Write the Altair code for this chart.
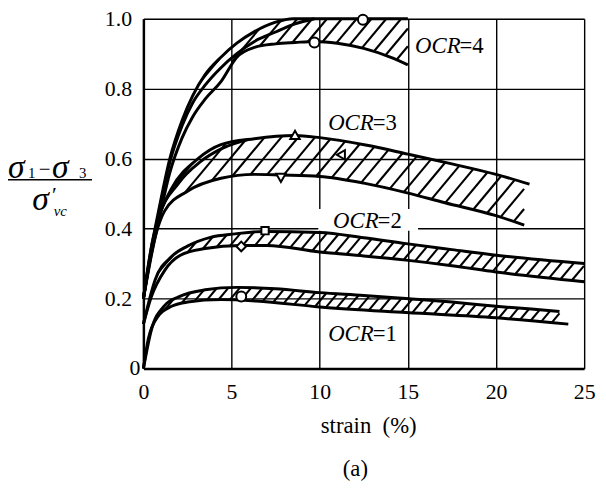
import altair as alt
import pandas as pd
import numpy as np

W, H = 446, 354
XMAX, YMAX = 25.0, 1.0
FONT = "Liberation Serif"

# ---------------- curve data ----------------
ocr1_up_x = [0, 0.45, 1.2, 2.0, 3.5, 5.3, 7.5, 10, 12.5, 14.9, 17.5, 20, 22, 23.6]
ocr1_up_y = [0, 0.11, 0.18, 0.205, 0.225, 0.232, 0.228, 0.217, 0.209, 0.200, 0.19, 0.178, 0.17, 0.163]
ocr1_lo_x = [0, 0.28, 0.84, 1.6, 2.5, 4.4, 6.4, 10, 14.9, 20, 24.1]
ocr1_lo_y = [0, 0.085, 0.15, 0.178, 0.19, 0.197, 0.193, 0.176, 0.16, 0.145, 0.127]

ocr2_up_x = [0, 0.67, 1.6, 2.5, 3.8, 5.2, 6.85, 10, 12.5, 14.9, 17.5, 20, 25]
ocr2_up_y = [0.127, 0.254, 0.32, 0.35, 0.375, 0.385, 0.392, 0.389, 0.374, 0.357, 0.34, 0.324, 0.30]
ocr2_lo_x = [0, 0.45, 1.2, 2.1, 3.5, 5.5, 7.0, 10, 12.5, 14.9, 17.5, 20, 25]
ocr2_lo_y = [0.127, 0.205, 0.28, 0.324, 0.343, 0.352, 0.352, 0.333, 0.322, 0.31, 0.294, 0.276, 0.248]

ocr3_up_x = [0, 0.5, 1.0, 1.6, 3.1, 4.4, 6.3, 8.6, 10, 12.6, 15, 17.5, 20, 21.9]
ocr3_up_y = [0.2, 0.36, 0.45, 0.515, 0.6, 0.64, 0.657, 0.666, 0.66, 0.639, 0.613, 0.585, 0.555, 0.527]
ocr3_mid_x = [0, 0.8, 2.0, 3.2, 4.5, 6.0]
ocr3_mid_y = [0.2, 0.42, 0.53, 0.59, 0.63, 0.655]
ocr3_lo_x = [0, 0.5, 1.2, 2.5, 4.4, 6.3, 7.8, 10, 12.5, 14.9, 17.1, 20, 21.6]
ocr3_lo_y = [0.2, 0.34, 0.45, 0.507, 0.544, 0.555, 0.553, 0.549, 0.53, 0.503, 0.474, 0.437, 0.41]

ocr4_a_x = [0, 0.4, 0.9, 1.5, 2.2, 2.8, 3.5, 4.4, 5.3, 6.3, 7.5, 8.5, 15]
ocr4_a_y = [0.2, 0.33, 0.46, 0.6, 0.71, 0.78, 0.84, 0.89, 0.93, 0.963, 0.99, 1.0, 1.0]
ocr4_b_x = [0, 0.4, 0.9, 1.5, 2.2, 2.8, 3.5, 4.4, 5.3, 6.3, 7.5, 8.6, 9.7]
ocr4_b_y = [0.2, 0.32, 0.45, 0.59, 0.695, 0.76, 0.81, 0.86, 0.9, 0.935, 0.962, 0.985, 1.0]
ocr4_c_x = [0, 0.4, 0.9, 1.5, 2.2, 2.8, 3.5, 4.4, 5.3, 6.3, 7.5, 8.6, 9.7, 11, 12.5, 14, 15]
ocr4_c_y = [0.2, 0.31, 0.43, 0.56, 0.66, 0.72, 0.77, 0.82, 0.89, 0.918, 0.928, 0.932, 0.935, 0.93, 0.915, 0.89, 0.868]

# markers
mk_x = [5.55, 5.55, 6.9, 7.8, 8.6, 11.2, 9.7, 12.45]
mk_y = [0.206, 0.349, 0.394, 0.545, 0.668, 0.611, 0.932, 0.997]
mk_shape = ["circle", "diamond", "square", "triangle-down", "triangle-up", "triangle-left", "circle", "circle"]
mk_size = [100, 95, 55, 90, 90, 90, 100, 100]

# OCR labels
lab_x = [15.41, 10.48, 10.76, 10.48]
lab_y = [0.901, 0.682, 0.403, 0.079]
lab_n = ["=4", "=3", "=2", "=1"]

# white box behind OCR=2 label
box_x, box_x2, box_y, box_y2 = [9.92], [15.58], [0.394], [0.456]

x_ticks = [0, 5, 10, 15, 20, 25]
y_ticks = [0.2, 0.4, 0.6, 0.8, 1.0]

curves = {
    "o1u": (ocr1_up_x, ocr1_up_y), "o1l": (ocr1_lo_x, ocr1_lo_y),
    "o2u": (ocr2_up_x, ocr2_up_y), "o2l": (ocr2_lo_x, ocr2_lo_y),
    "o3u": (ocr3_up_x, ocr3_up_y), "o3m": (ocr3_mid_x, ocr3_mid_y), "o3l": (ocr3_lo_x, ocr3_lo_y),
    "o4a": (ocr4_a_x, ocr4_a_y), "o4b": (ocr4_b_x, ocr4_b_y), "o4c": (ocr4_c_x, ocr4_c_y),
}


# ---------- monotone evaluation (same scheme as d3 curveMonotoneX) for hatch clipping ----------
def mono(xs, ys, xq):
    xs = np.asarray(xs, float); ys = np.asarray(ys, float)
    n = len(xs); h = np.diff(xs); s = np.diff(ys) / h
    t = np.zeros(n)
    sg = lambda v: -1.0 if v < 0 else 1.0
    for i in range(1, n - 1):
        p = (s[i - 1] * h[i] + s[i] * h[i - 1]) / (h[i - 1] + h[i])
        t[i] = (sg(s[i - 1]) + sg(s[i])) * min(abs(s[i - 1]), abs(s[i]), 0.5 * abs(p))
    if n > 2:
        t[0] = (3 * s[0] - t[1]) / 2
        t[-1] = (3 * s[-1] - t[-2]) / 2
    else:
        t[:] = s[0]
    xq = np.asarray(xq, float)
    i = np.clip(np.searchsorted(xs, xq, side="right") - 1, 0, n - 2)
    hh = h[i]; u = (xq - xs[i]) / hh
    h00 = 2 * u**3 - 3 * u**2 + 1; h10 = u**3 - 2 * u**2 + u
    h01 = -2 * u**3 + 3 * u**2; h11 = u**3 - u**2
    return h00 * ys[i] + h10 * hh * t[i] + h01 * ys[i + 1] + h11 * hh * t[i + 1]


def hatch(up, lo, xlo, xhi, spacing, m=1.2, phase=0.0):
    pxs = np.arange(xlo * W / XMAX, xhi * W / XMAX, 0.2)
    xd = pxs * XMAX / W
    U = np.minimum(mono(up[0], up[1], xd), 1.0)
    L = mono(lo[0], lo[1], xd)
    pyU = H * (1 - U); pyL = H * (1 - L)
    cU = pyU + m * pxs; cL = pyL + m * pxs
    step = m * spacing
    c0 = np.floor((cU.min() - phase) / step) * step + phase
    rows = []
    for c in np.arange(c0, cL.max() + step, step):
        py = c - m * pxs
        inside = (py >= pyU) & (py <= pyL)
        if not inside.any():
            continue
        d = np.diff(np.concatenate([[0], inside.astype(int), [0]]))
        starts = np.where(d == 1)[0]; ends = np.where(d == -1)[0] - 1
        for a, b in zip(starts, ends):
            if pxs[b] - pxs[a] < 0.8:
                continue
            rows.append({"x": xd[a], "y": 1 - py[a] / H, "x2": xd[b], "y2": 1 - py[b] / H})
    return rows


hrows = []
hrows += hatch(curves["o1u"], curves["o1l"], 0, 23.6, 11.5, phase=3)
hrows += hatch(curves["o2u"], curves["o2l"], 0, 25, 12.5, phase=5)
hrows += hatch(curves["o3u"], curves["o3l"], 0, 21.6, 17, phase=2)
hrows += hatch(curves["o4a"], curves["o4b"], 0, 5.0, 15, phase=7)
hrows += hatch(curves["o4a"], curves["o4c"], 5.0, 15, 15, phase=7)
hatch_df = pd.DataFrame(hrows)

line_rows = []
for name, (xs_, ys_) in curves.items():
    for k, (a, b) in enumerate(zip(xs_, ys_)):
        line_rows.append({"curve": name, "x": a, "y": b, "o": k})
line_df = pd.DataFrame(line_rows)

mk_df = pd.DataFrame({"x": mk_x, "y": mk_y, "shape": mk_shape, "size": mk_size})
lab_df = pd.DataFrame({"x": lab_x, "y": lab_y, "n": lab_n})
box_df = pd.DataFrame({"x": box_x, "x2": box_x2, "y": box_y, "y2": box_y2})

xs = alt.Scale(domain=[0, XMAX], nice=False, zero=False)
ys = alt.Scale(domain=[0, YMAX], nice=False, zero=False)

x_axis = alt.Axis(values=x_ticks, format="d", title=None, ticks=False, labelFlush=False,
                  labelFont=FONT, labelFontSize=22, labelPadding=13, labelColor="black",
                  grid=True, gridColor="black", gridWidth=1.4, gridOpacity=1,
                  domainColor="black", domainWidth=2.5)
y_axis = alt.Axis(values=y_ticks, format=".1f", title=None, ticks=False,
                  labelFont=FONT, labelFontSize=22, labelPadding=12, labelColor="black",
                  grid=True, gridColor="black", gridWidth=1.4, gridOpacity=1,
                  domainColor="black", domainWidth=2.5)

box = alt.Chart(box_df).mark_rect(color="white").encode(
    x=alt.X("x:Q", scale=xs, axis=x_axis), x2="x2:Q",
    y=alt.Y("y:Q", scale=ys, axis=y_axis), y2="y2:Q")

hatch_layer = alt.Chart(hatch_df).mark_rule(color="black", strokeWidth=2.1).encode(
    x=alt.X("x:Q", scale=xs), y=alt.Y("y:Q", scale=ys), x2="x2:Q", y2="y2:Q")

lines = alt.Chart(line_df).mark_line(color="black", strokeWidth=3, interpolate="monotone").encode(
    x=alt.X("x:Q", scale=xs), y=alt.Y("y:Q", scale=ys), detail="curve:N", order="o:Q")

markers = alt.Chart(mk_df).mark_point(fill="white", fillOpacity=1, stroke="black", strokeWidth=2, opacity=1).encode(
    x=alt.X("x:Q", scale=xs), y=alt.Y("y:Q", scale=ys),
    shape=alt.Shape("shape:N", scale=None), size=alt.Size("size:Q", scale=None))

ocr_text = alt.Chart(lab_df).mark_text(text="OCR", font=FONT, fontSize=23, fontStyle="italic",
                                       align="left", baseline="alphabetic", color="black").encode(
    x=alt.X("x:Q", scale=xs), y=alt.Y("y:Q", scale=ys))
eq_text = alt.Chart(lab_df).mark_text(font=FONT, fontSize=23, align="left", baseline="alphabetic",
                                      dx=45, color="black").encode(
    x=alt.X("x:Q", scale=xs), y=alt.Y("y:Q", scale=ys), text="n:N")


def ann(text, px, py, size, style="normal", align="center"):
    return alt.Chart(alt.Data(values=[{"a": 1}])).mark_text(
        text=text, font=FONT, fontSize=size, fontStyle=style, align=align,
        baseline="alphabetic", color="black").encode(x=alt.value(px), y=alt.value(py))


frac = alt.Chart(alt.Data(values=[{"a": 1}])).mark_rule(color="black", strokeWidth=1.5).encode(
    x=alt.value(-137), x2=alt.value(-52), y=alt.value(163))

annotations = [
    ann("σ", -128.5, 161, 34, "italic"),
    ann("1", -113, 161, 15),
    ann("−", -100, 159, 21),
    ann("σ", -84, 161, 34, "italic"),
    ann("3", -61.5, 161, 15),
    ann("σ", -104, 194, 34, "italic"),
    ann("′", -90, 185, 22),
    ann("vc", -84, 200, 15, "italic"),
    ann("0", -3, 361, 22, align="right"),
    ann("strain\u00a0\u00a0(%)", 228, 419, 23),
    ann("(a)", 214.5, 463, 23),
]

chart = alt.layer(box, hatch_layer, lines, markers, ocr_text, eq_text, frac, *annotations).properties(
    width=W, height=H,
    padding={"left": 137, "top": 8, "right": 14, "bottom": 115},
    autosize=alt.AutoSizeParams(type="none"),
).configure_view(stroke="black", strokeWidth=2).configure(background="white")

chart.save("out.html", embed_options={"renderer": "svg", "actions": False})
